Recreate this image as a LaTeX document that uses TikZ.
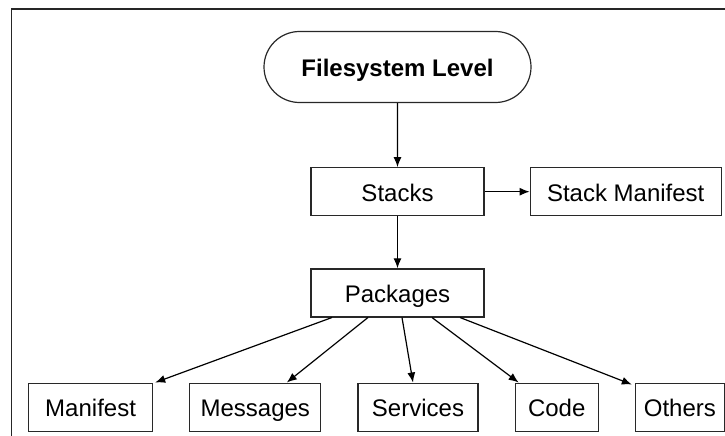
\documentclass[tikz,border=0pt]{standalone}
\usepackage{fontspec}
\setmainfont{Liberation Sans}
\usetikzlibrary{arrows.meta,positioning,shapes.misc}
\definecolor{lineColor}{RGB}{40,40,40}
\tikzset{block/.style={draw=lineColor, line width=1.2pt, fill=white, align=center, minimum height=48pt, inner sep=0pt, text height=20.5pt, text depth=1.5pt, font=\fontsize{24}{28}\selectfont}}
\tikzset{level/.style={block, shape=rounded rectangle, minimum width=267pt, minimum height=71pt, font=\fontsize{24}{28}\selectfont\bfseries}}
\tikzset{link/.style={draw=black, line width=1.2pt, -{Latex[length=10pt, width=8pt]}}}

\begin{document}
\begin{tikzpicture}[x=1pt, y=-1pt, node distance=64pt and 45pt]
\useasboundingbox (0,0) rectangle (725,436);
% Frame
\draw[line width=1.8pt, black!85] (11.5,436) -- (11.5,9) -- (725,9);

% Nodes
\node (filesystem) [level] at (397.5,67) {Filesystem Level};
\node (stacks) [block, minimum width=173pt, below=of filesystem] {Stacks};
\node (stackmanifest) [block, minimum width=191pt, right=of stacks] {Stack Manifest};
\node (packages) [block, minimum width=173pt, below=52pt of stacks] {Packages};

\node (services) [block, minimum width=120pt, below=65pt of packages, xshift=20.5pt] {Services};
\node (messages) [block, minimum width=131pt, left=36pt of services] {Messages};
\node (manifest) [block, minimum width=124pt, left=36pt of messages] {Manifest};
\node (code) [block, minimum width=83pt, right=36pt of services] {Code};
\node (others) [block, minimum width=89pt, right=36pt of code] {Others};

% Connectors
\begin{scope}[every path/.style={link}]
\draw (filesystem) -- (stacks);
\draw (stacks) -- (packages);
\draw (stacks) -- (stackmanifest);

\draw ([xshift=-65.5pt]packages.south) -- ([xshift=2pt]manifest.north east);
\draw ([xshift=-29.5pt]packages.south) -- ([xshift=31.5pt]messages.north);
\draw ([xshift=4.5pt]packages.south) -- ([xshift=-5pt]services.north);
\draw ([xshift=34.5pt]packages.south) -- ([xshift=4pt]code.north west);
\draw ([xshift=62.5pt]packages.south) -- ([xshift=-3pt, yshift=-2pt]others.north west);
\end{scope}

\end{tikzpicture}
\end{document}
